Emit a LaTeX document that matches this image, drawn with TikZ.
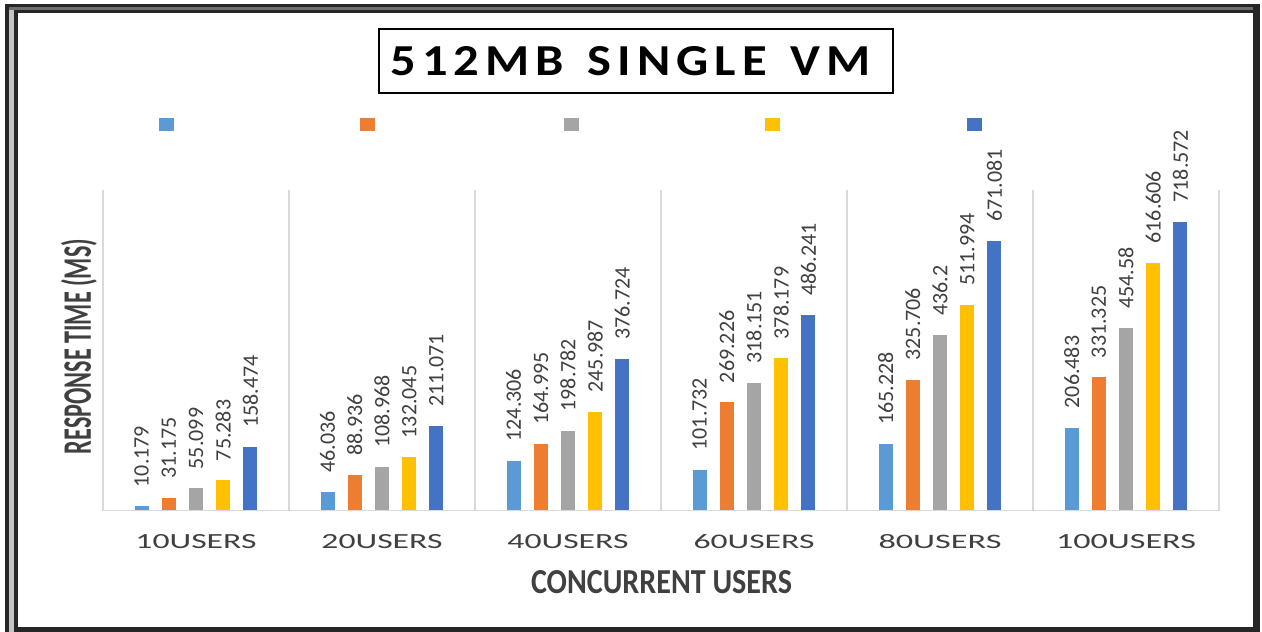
\documentclass[tikz,border=0pt]{standalone}
\usepackage{fontspec}
\setmainfont{Carlito}
\usepackage{graphicx}
\definecolor{s0}{HTML}{5B9BD5}
\definecolor{s1}{HTML}{ED7D31}
\definecolor{s2}{HTML}{A5A5A5}
\definecolor{s3}{HTML}{FFC000}
\definecolor{s4}{HTML}{4472C4}
\definecolor{labc}{HTML}{404040}
\definecolor{gridc}{HTML}{D9D9D9}
\definecolor{framedark}{HTML}{262626}
\definecolor{framemid}{HTML}{6E6E6E}
\definecolor{framegray}{HTML}{C4C4C4}
\newdimen\lspk
\def\lspA#1{\ifx#1\relax\else\kern\lspk #1\expandafter\lspA\fi}
\def\lspB#1{#1\lspA}
\newcommand\lspaced[2]{\lspk=#1\relax\lspB#2\relax}
\tikzset{
  dlab/.style={font=\fontsize{22}{26}\selectfont, text=labc, inner sep=0pt, rotate=90, anchor=west},
  catlab/.style={text=labc, inner sep=0pt, font=\fontsize{22}{26}\selectfont},
  axtitle/.style={text=labc, inner sep=0pt, font=\bfseries\fontsize{30}{36}\selectfont},
  sepline/.style={draw=gridc, line width=1.5pt},
  legsq/.style={minimum width=15pt, minimum height=13pt, inner sep=0pt},
}
\begin{document}
\begin{tikzpicture}[x=1pt,y=-1pt]
\useasboundingbox (0,0) rectangle (1262,632);
% frame
\fill[white] (0,0) rectangle (1262,632);
\fill[framedark] (5,4) rectangle (1260,632);
\fill[framegray] (9,7) rectangle (14,632);
\fill[framemid] (9,6.5) rectangle (1253,10);
\fill[white] (18,13) rectangle (1253,627);
% title
\node[draw=black, line width=2pt, minimum width=514pt, minimum height=64pt, inner sep=0pt] (title) at (636,61)
  {\resizebox{480pt}{29pt}{\bfseries\lspaced{0.12em}{512MB~SINGLE~VM}}\hspace*{11pt}};
% legend
\foreach \k/\lx in {0/166,1/367.5,2/571,3/772.5,4/974}
  \node[legsq, fill=s\k] (leg\k) at (\lx,124.5) {};
% separators
\foreach \k in {0,...,6}
  \draw[sepline] (103+186*\k,190) -- (103+186*\k,510.5);
% bars and labels
\foreach \i/\j/\v in {0/0/10.179,0/1/31.175,0/2/55.099,0/3/75.283,0/4/158.474,
  1/0/46.036,1/1/88.936,1/2/108.968,1/3/132.045,1/4/211.071,
  2/0/124.306,2/1/164.995,2/2/198.782,2/3/245.987,2/4/376.724,
  3/0/101.732,3/1/269.226,3/2/318.151,3/3/378.179,3/4/486.241,
  4/0/165.228,4/1/325.706,4/2/436.2,4/3/511.994,4/4/671.081,
  5/0/206.483,5/1/331.325,5/2/454.58,5/3/616.606,5/4/718.572}{
  \pgfmathsetmacro\xc{196+186*\i+27.2*(\j-2)}
  \pgfmathsetmacro\yt{510.5-0.402*\v}
  \fill[color=s\j] (\xc-7,\yt) rectangle (\xc+7,510.5);
  \node[dlab] (lab\i\j) at (\xc,\yt-19) {\v};
}
\draw[sepline] (103,510.5) -- (1219,510.5);
% category labels
\foreach \i/\t/\w in {0/10USERS/121,1/20USERS/121,2/40USERS/121,3/60USERS/121,4/80USERS/123,5/100USERS/140}
  \node[catlab] (cat\i) at (196+186*\i,541.5) {\resizebox{\w pt}{14pt}{\lspaced{0.144em}{\t}}};
% axis titles
\node[axtitle] (xtitle) at (661.5,582.5) {\resizebox{261pt}{23pt}{CONCURRENT USERS}};
\node[axtitle, rotate=90] (ytitle) at (79,346.5) {\resizebox{215pt}{30pt}{RESPONSE TIME (MS)}};
\end{tikzpicture}
\end{document}
